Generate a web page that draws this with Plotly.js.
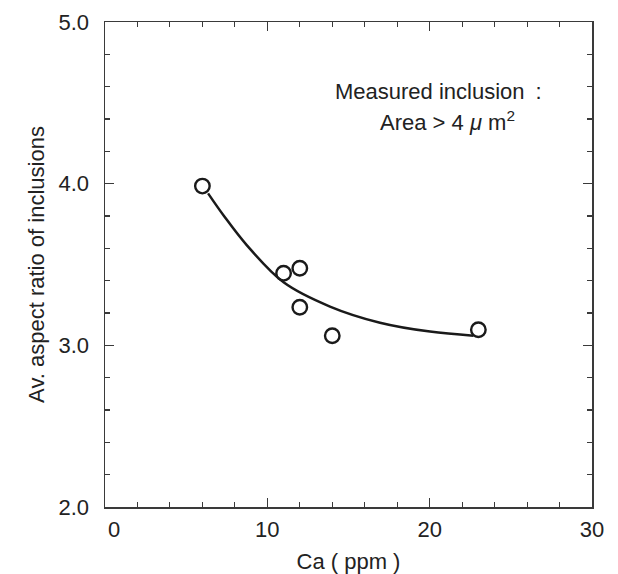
<!DOCTYPE html>
<html>
<head>
<meta charset="utf-8">
<script src="https://cdn.plot.ly/plotly-3.0.1.min.js"></script>
<style>html,body{margin:0;padding:0;background:#fff;}#chart{width:618px;height:574px;}</style>
</head>
<body>
<div id="chart"></div>
<script>
// Measured points
const caPpm = [6, 11, 12, 12, 14, 23];
const aspectRatio = [3.985, 3.446, 3.477, 3.236, 3.059, 3.096];
// Fitted curve (as drawn)
const fitCa = [6.35, 7.33, 8.73, 11.0, 13.86, 16.94, 20.02, 22.7];
const fitRatio = [3.94, 3.80, 3.62, 3.39, 3.24, 3.14, 3.085, 3.06];
// Tick labels
const xTicks = [0, 10, 20, 30];
const xTickText = ['\u2007\u00a00', '10', '20', '30'];
const yTicks = [2, 3, 4, 5];
const yTickText = ['2.0', '3.0', '4.0', '5.0'];

const font = 'Liberation Sans, Arial, sans-serif';
const axisColor = '#3a3a3a';
const textColor = '#222';

const traces = [
  {x: fitCa, y: fitRatio, mode: 'lines', line: {color: '#1a1a1a', width: 2.5, shape: 'spline', smoothing: 1}, hoverinfo: 'skip'},
  {x: caPpm, y: aspectRatio, mode: 'markers', marker: {symbol: 'circle-open', size: 14.5, color: '#1a1a1a', line: {width: 2.4, color: '#1a1a1a'}}}
];

const layout = {
  width: 618, height: 574,
  margin: {l: 105, r: 26, t: 22, b: 67},
  paper_bgcolor: '#fff', plot_bgcolor: '#fff',
  showlegend: false,
  font: {family: font, color: textColor, size: 22},
  xaxis: {
    range: [0, 30], tickvals: xTicks, ticktext: xTickText,
    ticks: 'inside', ticklen: 9, tickwidth: 1.3, tickcolor: axisColor,
    minor: {dtick: 2, ticks: 'inside', ticklen: 5, tickwidth: 1.1, tickcolor: axisColor, showgrid: false},
    showline: true, linecolor: axisColor, linewidth: 1.5, mirror: 'ticks',
    showgrid: false, zeroline: false,
    tickfont: {size: 22, family: font, color: textColor},
    ticklabelstandoff: 2,
    title: {text: 'Ca ( ppm )', font: {size: 22, family: font, color: textColor}, standoff: 12}
  },
  yaxis: {
    range: [2, 5], tickvals: yTicks, ticktext: yTickText,
    ticks: 'inside', ticklen: 9, tickwidth: 1.3, tickcolor: axisColor,
    minor: {dtick: 0.2, ticks: 'inside', ticklen: 5, tickwidth: 1.1, tickcolor: axisColor, showgrid: false},
    showline: true, linecolor: axisColor, linewidth: 1.5, mirror: 'ticks',
    showgrid: false, zeroline: false,
    tickfont: {size: 22, family: font, color: textColor},
    ticklabelstandoff: 10,
    title: {text: 'Av. aspect ratio of inclusions', font: {size: 22, family: font, color: textColor}, standoff: 8}
  },
  annotations: [
    {xref: 'paper', yref: 'paper', x: 0.4676, y: 0.8559, xanchor: 'left', yanchor: 'middle', showarrow: false,
     text: 'Measured inclusion\u2002:', font: {size: 22, family: font, color: textColor}},
    {xref: 'paper', yref: 'paper', x: 0.561, y: 0.7959, xanchor: 'left', yanchor: 'middle', showarrow: false,
     text: 'Area > 4 <i>μ</i> m<sup>2</sup>', font: {size: 22, family: font, color: textColor}}
  ]
};

Plotly.newPlot('chart', traces, layout, {displayModeBar: false, staticPlot: true});
</script>
</body>
</html>
